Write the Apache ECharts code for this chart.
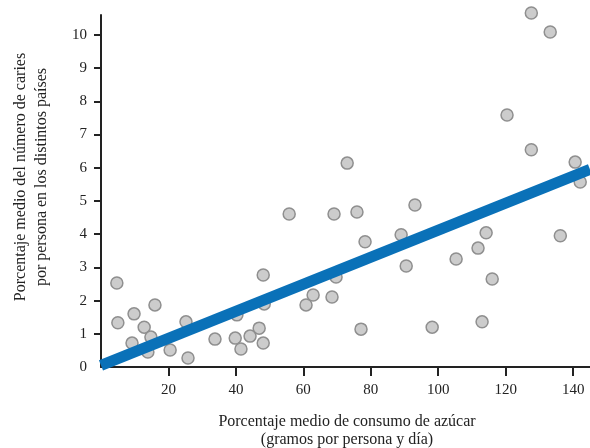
<!DOCTYPE html>
<html>
<head>
<meta charset="utf-8">
<script src="https://cdn.jsdelivr.net/npm/echarts@6/dist/echarts.min.js"></script>
<style>html,body{margin:0;padding:0;background:#fff}#c{width:590px;height:448px}</style>
</head>
<body>
<div id="c"></div>
<script>
// Sugar consumption (g/person/day) per country
const sugar = [4.7,5.0,9.8,9.2,12.8,16.0,14.8,13.9,20.5,25.2,25.8,33.8,39.8,40.3,41.5,44.2,46.9,48.1,
  48.1,48.4,55.8,60.8,62.9,68.5,69.7,69.1,73.0,75.9,78.3,77.1,89.0,90.5,93.1,98.2,105.3,111.8,114.2,116.0,113.0,
  127.6,136.2,140.6,142.1,127.6,133.2,120.4];
// Mean number of caries per person
const caries = [2.53,1.33,1.60,0.72,1.20,1.87,0.90,0.45,0.51,1.36,0.27,0.84,0.87,1.57,0.54,0.93,1.17,0.72,
  2.77,1.90,4.61,1.87,2.17,2.11,2.71,4.61,6.14,4.67,3.77,1.14,3.98,3.04,4.88,1.20,3.25,3.58,4.04,2.65,1.36,
  6.54,3.95,6.17,5.57,10.66,10.09,7.59];
// Regression line endpoints
const trendX = [0, 145];
const trendY = [0.05, 5.95];
const xTicks = [20, 40, 60, 80, 100, 120, 140];
const yTicks = [0,1,2,3,4,5,6,7,8,9,10];
const xTitle = ['Porcentaje medio de consumo de azúcar', '(gramos por persona y día)'];
const yTitle = ['Porcentaje medio del número de caries', 'por persona en los distintos países'];

const points = sugar.map((x, i) => [x, caries[i]]);
const trend = trendX.map((x, i) => [x, trendY[i]]);
const font = '"Liberation Serif", "DejaVu Serif", serif';
const titleFont = '16px "Liberation Serif", "DejaVu Serif", serif';

const chart = echarts.init(document.getElementById('c'), null, {renderer: 'canvas'});
chart.setOption({
  backgroundColor: '#fff',
  animation: false,
  grid: {left: 101, right: 0, top: 15, bottom: 81, containLabel: false, outerBoundsMode: 'none'},
  graphic: [
    {type: 'text', x: 347, y: 422, style: {text: xTitle[0], font: titleFont, fill: '#222', align: 'center', verticalAlign: 'middle'}},
    {type: 'text', x: 347, y: 440, style: {text: xTitle[1], font: titleFont, fill: '#222', align: 'center', verticalAlign: 'middle'}},
    {type: 'text', x: 21, y: 177, rotation: Math.PI / 2, style: {text: yTitle[0], font: titleFont, fill: '#222', align: 'center', verticalAlign: 'middle'}},
    {type: 'text', x: 42, y: 177, rotation: Math.PI / 2, style: {text: yTitle[1], font: titleFont, fill: '#222', align: 'center', verticalAlign: 'middle'}}
  ],
  xAxis: {
    type: 'value', min: 0, max: 145,
    splitLine: {show: false},
    axisLine: {show: true, lineStyle: {color: '#222', width: 2}},
    axisTick: {show: true, customValues: xTicks, length: 9, inside: false, lineStyle: {color: '#222', width: 2}},
    axisLabel: {customValues: xTicks, margin: 16, color: '#222', fontSize: 15, fontFamily: font}
  },
  yAxis: {
    type: 'value', min: 0, max: 10.6,
    splitLine: {show: false},
    axisLine: {show: true, lineStyle: {color: '#222', width: 2}},
    axisTick: {show: true, customValues: yTicks.filter(v => v > 0), length: 7, lineStyle: {color: '#222', width: 2}},
    axisLabel: {customValues: yTicks, margin: 14, color: '#222', fontSize: 15, fontFamily: font}
  },
  series: [
    {
      type: 'scatter', data: points, symbol: 'circle', symbolSize: 12, z: 2, clip: false,
      itemStyle: {color: '#cccccc', borderColor: '#8f8f8f', borderWidth: 1.5, opacity: 1}
    },
    {
      type: 'line', data: trend, symbol: 'none', z: 3, clip: true,
      lineStyle: {color: '#0a71b8', width: 11, cap: 'butt'}
    }
  ]
});
</script>
</body>
</html>
